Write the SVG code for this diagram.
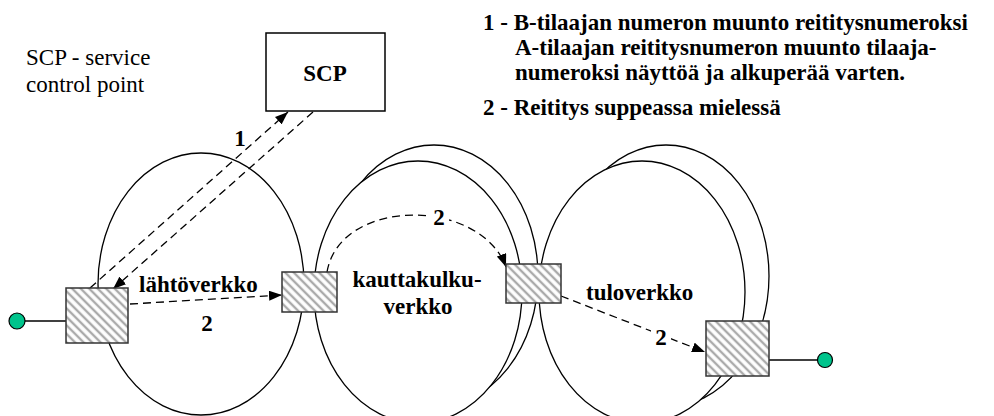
<svg xmlns="http://www.w3.org/2000/svg" width="994" height="416" viewBox="0 0 994 416">
<style>
.net{stroke:#000;stroke-width:1.3;}
.dash{fill:none;stroke:#000;stroke-width:1.3;stroke-dasharray:8 5;}
.sw{fill:url(#hatch);stroke:#333;stroke-width:1.5;}
.dot{fill:#00c48c;stroke:#000;stroke-width:1.2;}
text{font-family:'Liberation Serif','Times New Roman',Times,'DejaVu Serif',serif;font-size:23px;}
</style>
<defs>
<pattern id="hatch" width="6" height="6" patternUnits="userSpaceOnUse" patternTransform="rotate(-45)">
<rect width="6" height="6" fill="#fff"/>
<line x1="3" y1="0" x2="3" y2="6" stroke="#aaa" stroke-width="2.4"/>
</pattern>
<marker id="arr" markerUnits="userSpaceOnUse" markerWidth="14" markerHeight="10" refX="13" refY="5" orient="auto">
<path d="M0,0 L13,5 L0,10 z" fill="#000"/>
</marker>
</defs>

<g id="networks">
<ellipse id="lahtoverkko-area" class="net" cx="201" cy="284" rx="103" ry="131" fill="none"/>
<ellipse id="kauttakulku-back" class="net" cx="434" cy="276" rx="104" ry="131" fill="none"/>
<ellipse id="kauttakulku-front" class="net" cx="418" cy="292" rx="104" ry="131" fill="#fff"/>
<ellipse id="tulo-back" class="net" cx="666" cy="276" rx="103" ry="131" fill="none"/>
<ellipse id="tulo-front" class="net" cx="642" cy="292" rx="103" ry="131" fill="#fff"/>
</g>

<g id="scp">
<rect x="266" y="33" width="119" height="78" fill="#fff" stroke="#000" stroke-width="1.5"/>
<text font-weight="bold" x="325" y="81" text-anchor="middle">SCP</text>
</g>

<g id="connectors">
<line x1="25" y1="321" x2="66" y2="321" stroke="#000" stroke-width="1.3"/>
<line x1="769" y1="360" x2="817" y2="360" stroke="#000" stroke-width="1.3"/>
<path class="dash" d="M90,288 L288,112" marker-end="url(#arr)"/>
<path class="dash" d="M313,112 L113,289" marker-end="url(#arr)"/>
<path class="dash" d="M130,304 L282,295" marker-end="url(#arr)"/>
<path class="dash" d="M327,272 C340,197 480,197 506,267" marker-end="url(#arr)"/>
<path class="dash" d="M561,296 L705,352" marker-end="url(#arr)"/>
<rect x="430" y="205" width="19" height="24" fill="#fff"/>
<rect x="651" y="325" width="20" height="24" fill="#fff"/>
</g>

<g id="exchange-a"><rect class="sw" x="66" y="288" width="62" height="55"/></g>
<g id="exchange-b"><rect class="sw" x="282" y="272" width="55" height="40"/></g>
<g id="exchange-c"><rect class="sw" x="506" y="264" width="55" height="39"/></g>
<g id="exchange-d"><rect class="sw" x="706" y="321" width="63" height="55"/></g>

<g id="terminal-a"><circle class="dot" cx="17" cy="321" r="8"/></g>
<g id="terminal-b"><circle class="dot" cx="825" cy="360" r="7.5"/></g>

<g id="labels">
<text x="26" y="65">SCP - service</text>
<text x="26" y="92">control point</text>
<g font-weight="bold">
<text x="240" y="146" text-anchor="middle">1</text>
<text x="139" y="292">lähtöverkko</text>
<text x="207" y="331" text-anchor="middle">2</text>
<text x="417" y="287" text-anchor="middle">kauttakulku-</text>
<text x="418" y="314" text-anchor="middle">verkko</text>
<text x="439" y="225" text-anchor="middle">2</text>
<text x="586" y="300">tuloverkko</text>
<text x="661" y="345" text-anchor="middle">2</text>
</g>
</g>

<g id="legend" font-weight="bold">
<text x="483" y="30">1 - B-tilaajan numeron muunto reititysnumeroksi</text>
<text x="515" y="55">A-tilaajan reititysnumeron muunto tilaaja-</text>
<text x="515" y="80">numeroksi näyttöä ja alkuperää varten.</text>
<text x="483" y="115">2 - Reititys suppeassa mielessä</text>
</g>
</svg>
